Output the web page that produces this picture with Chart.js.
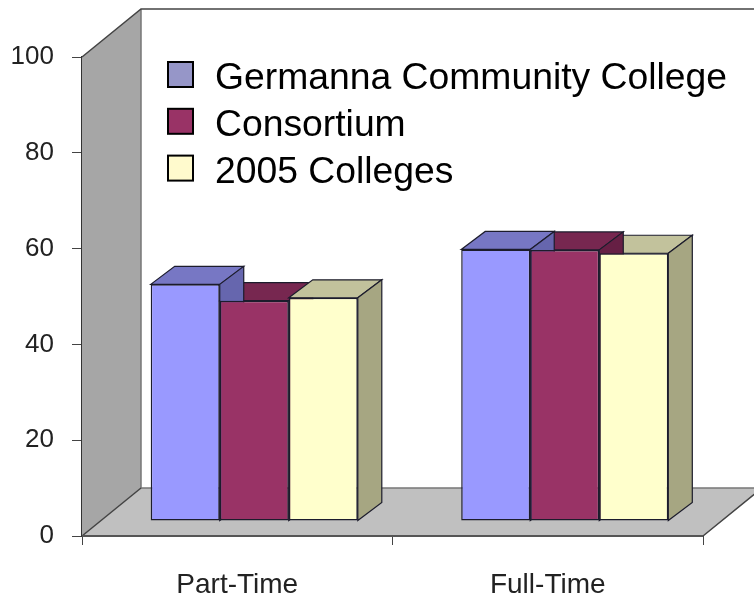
<!DOCTYPE html>
<html lang="en">
<head>
  <meta charset="UTF-8">
  <title>Part-Time and Full-Time Students</title>
  <script src="https://cdn.jsdelivr.net/npm/chart.js"></script>
  <style>
    html, body { margin: 0; padding: 0; background: #fff; overflow: hidden; }
    #wrap { width: 754px; height: 596px; }
    canvas { filter: blur(0.6px); }
  </style>
</head>
<body>
  <div id="wrap"><canvas id="chart"></canvas></div>
  <script>
    const categories = ["Part-Time", "Full-Time"];
    const seriesNames = ["Germanna Community College", "Consortium", "2005 Colleges"];
    const germanna = [49.4, 56.7];
    const consortium = [46.0, 56.6];
    const colleges2005 = [46.6, 55.9];

    const barColors = ["#9999ff", "#993366", "#ffffcc"];
    const legendColors = ["#9696c8", "#993366", "#fffacd"];
    const topColors = ["#7777c4", "#772750", "#c2c29c"];
    const sideColors = ["#6666ae", "#661f44", "#a6a682"];

    const font = "Arial, 'Liberation Sans', sans-serif";
    const wall = { dx: 59, dy: -48 };   // depth of the side wall and floor
    const shift = { dx: 17, dy: -15 };  // bars stand in the middle of the floor
    const depth = { dx: 24, dy: -18 };  // depth of each bar

    function poly(ctx, pts, fill, stroke, lw) {
      ctx.beginPath();
      pts.forEach((p, i) => i ? ctx.lineTo(p[0], p[1]) : ctx.moveTo(p[0], p[1]));
      ctx.closePath();
      if (fill) { ctx.fillStyle = fill; ctx.fill(); }
      if (stroke) { ctx.strokeStyle = stroke; ctx.lineWidth = lw || 1; ctx.stroke(); }
    }

    const walls3d = {
      id: "walls3d",
      beforeDatasetsDraw(chart) {
        const ctx = chart.ctx;
        const a = chart.chartArea;
        const bx = a.left + wall.dx, by = a.bottom + wall.dy, ty = a.top + wall.dy;
        ctx.save();
        // floor
        poly(ctx, [[a.left, a.bottom], [bx, by], [a.right + wall.dx, by], [a.right, a.bottom]], "#c0c0c0");
        // left wall
        poly(ctx, [[a.left, a.bottom], [a.left, a.top], [bx, ty], [bx, by]], "#a6a6a6");
        ctx.lineWidth = 1.5;
        ctx.strokeStyle = "#777";
        ctx.beginPath();
        ctx.moveTo(bx, ty); ctx.lineTo(bx, by); ctx.lineTo(chart.width, by);
        ctx.stroke();
        ctx.strokeStyle = "#444";
        ctx.beginPath();
        ctx.moveTo(a.left, a.top); ctx.lineTo(bx, ty); ctx.lineTo(chart.width, ty);
        ctx.moveTo(a.left, a.bottom); ctx.lineTo(bx, by);
        ctx.moveTo(a.right, a.bottom); ctx.lineTo(a.right + wall.dx, by);
        ctx.stroke();
        ctx.strokeStyle = "#555";
        ctx.lineWidth = 2;
        ctx.beginPath();
        ctx.moveTo(a.left, a.bottom); ctx.lineTo(a.right, a.bottom);
        ctx.stroke();

        // tops and sides go first, shortest bar first, so the front faces cover them
        ctx.translate(shift.dx, shift.dy);
        categories.forEach((c, k) => {
          const order = values.map((v, i) => i).sort((p, q) => values[p][k] - values[q][k]);
          order.forEach(i => {
            const bar = chart.getDatasetMeta(i).data[k];
            const l = bar.x - bar.width / 2, r = bar.x + bar.width / 2;
            const t = bar.y, b = bar.base;
            const d = depth;
            poly(ctx, [[l, t], [l + d.dx, t + d.dy], [r + d.dx, t + d.dy], [r, t]], topColors[i], "#1c1c2c", 1.2);
            poly(ctx, [[r, t], [r + d.dx, t + d.dy], [r + d.dx, b + d.dy], [r, b]], sideColors[i], "#1c1c2c", 1.2);
          });
        });
        ctx.restore();
      },
      beforeDatasetDraw(chart) {
        chart.ctx.save();
        chart.ctx.translate(shift.dx, shift.dy);
      },
      afterDatasetDraw(chart) {
        chart.ctx.restore();
      },
      afterDraw(chart) {
        const ctx = chart.ctx;
        ctx.save();
        ctx.font = "37.3px " + font;
        ctx.textBaseline = "alphabetic";
        chart.data.datasets.forEach((ds, i) => {
          const y = 62 + i * 46.8;
          ctx.fillStyle = legendColors[i];
          ctx.strokeStyle = "#000";
          ctx.lineWidth = 2;
          ctx.fillRect(168, y, 25, 25);
          ctx.strokeRect(168, y, 25, 25);
          ctx.fillStyle = "#000";
          ctx.fillText(ds.label, 215, y + 27);
        });
        ctx.restore();
      }
    };

    const values = [germanna, consortium, colleges2005];

    new Chart(document.getElementById("chart"), {
      type: "bar",
      data: {
        labels: categories,
        datasets: seriesNames.map((name, i) => ({
          label: name,
          data: values[i],
          backgroundColor: barColors[i],
          borderColor: "#1c1c2c",
          borderWidth: 1.5,
          borderSkipped: false,
          categoryPercentage: 0.667,
          barPercentage: 1,
          clip: false
        }))
      },
      options: {
        responsive: true,
        maintainAspectRatio: false,
        animation: false,
        layout: { padding: { top: 57, right: 51, left: 0, bottom: 0 } },
        plugins: { legend: { display: false }, tooltip: { enabled: false } },
        scales: {
          x: {
            afterFit(s) { s.height = 60; },
            grid: { drawOnChartArea: false, tickLength: 9, color: "#444" },
            border: { display: false },
            ticks: { color: "#222", padding: 23, font: { family: font, size: 28 }, maxRotation: 0 }
          },
          y: {
            min: 0,
            max: 100,
            afterFit(s) { s.width = 82; },
            grid: { drawOnChartArea: false, tickLength: 10, color: "#444" },
            border: { color: "#333", width: 1.5 },
            ticks: { stepSize: 20, color: "#222", padding: 18, font: { family: font, size: 26 } }
          }
        }
      },
      plugins: [walls3d]
    });
  </script>
</body>
</html>
